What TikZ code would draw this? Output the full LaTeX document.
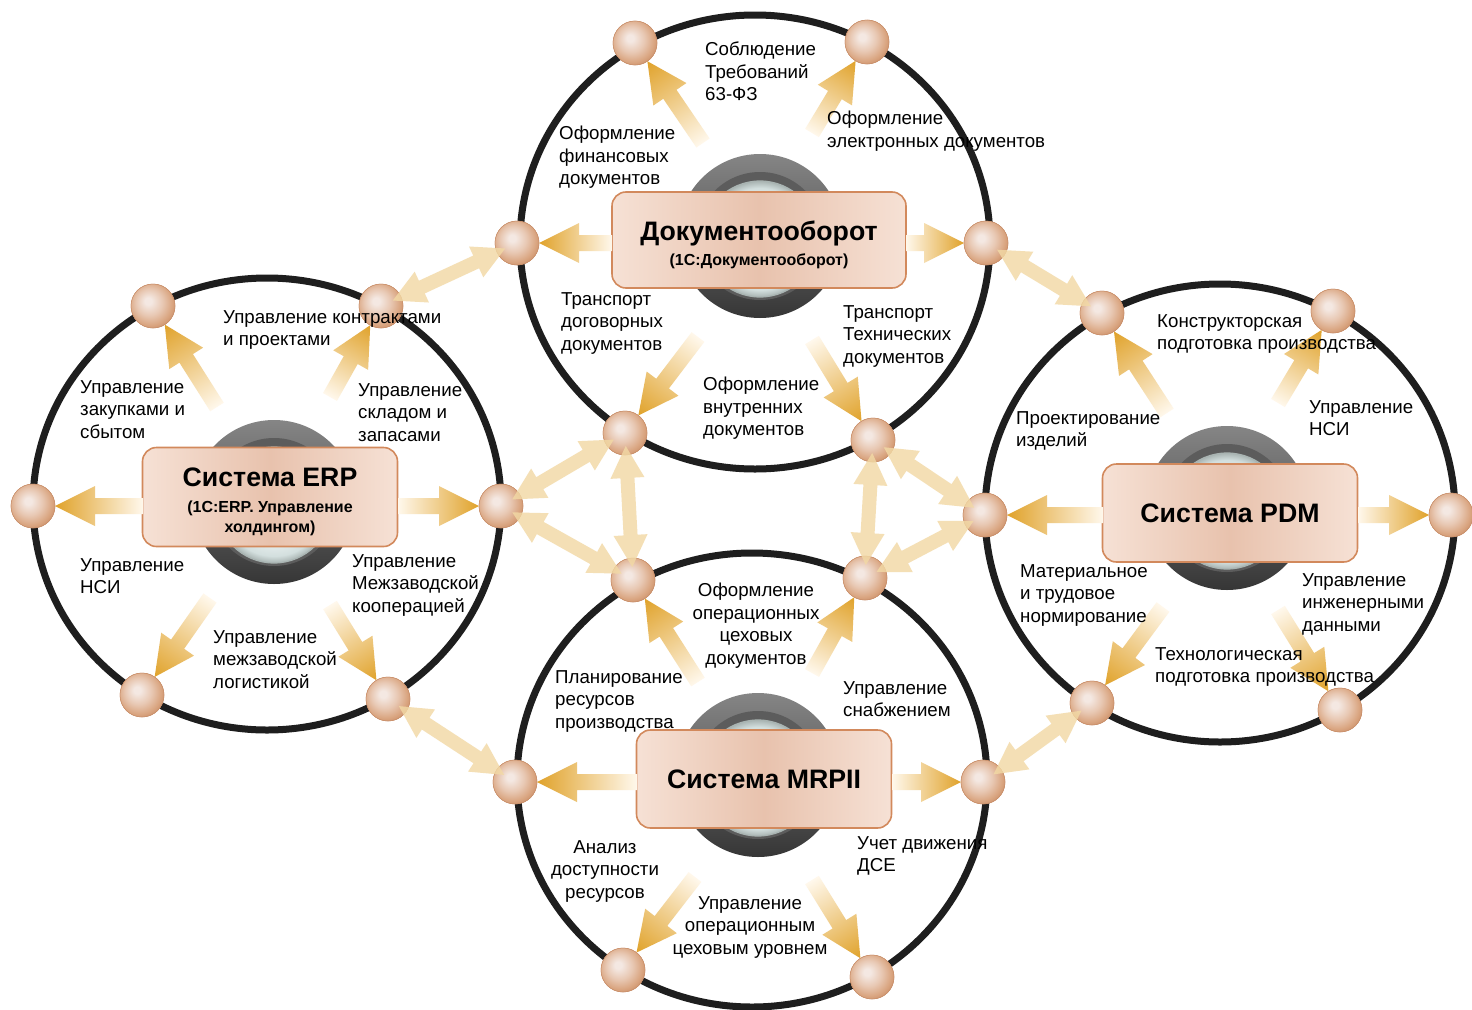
\documentclass[tikz,border=0pt]{standalone}
\usepackage{fontspec}
\setmainfont{Liberation Sans}
\usetikzlibrary{calc}
\definecolor{outl}{HTML}{1E1E1E}
\definecolor{arrhead}{HTML}{E0A22A}
\definecolor{arrtail}{HTML}{FFF8EC}
\definecolor{paleA}{HTML}{F2D9A5}
\definecolor{paleB}{HTML}{FAEED8}
\definecolor{boxedge}{HTML}{F6E1D5}
\definecolor{boxmid}{HTML}{E8C2AD}
\definecolor{boxline}{HTML}{D2895C}
\definecolor{ballhi}{HTML}{F4E8E2}
\definecolor{ballmid}{HTML}{E8C8B3}
\definecolor{ballout}{HTML}{D9A47F}
\definecolor{ballrim}{HTML}{C98F6A}
\definecolor{ringA}{HTML}{858585}
\definecolor{ringB}{HTML}{363636}
\definecolor{ringC}{HTML}{5C5C5C}
\definecolor{lensA}{HTML}{F4F8F8}
\definecolor{lensB}{HTML}{D3DFDE}
\definecolor{lensC}{HTML}{A9B4B2}
\pgfdeclareradialshading{myball}{\pgfpoint{-6bp}{6bp}}{color(0bp)=(ballhi); color(4bp)=(ballhi); color(15bp)=(ballmid); color(25bp)=(ballout); color(30bp)=(ballrim); color(50bp)=(ballrim)}
\pgfdeclareradialshading{lens}{\pgfpoint{0bp}{0bp}}{color(0bp)=(white); color(12bp)=(lensA); color(22bp)=(lensB); color(25bp)=(lensC); color(50bp)=(lensC)}
\newcommand{\garrow}[2]{%
  \pgfpointdiff{\pgfpointanchor{#1}{center}}{\pgfpointanchor{#2}{center}}%
  \pgfgetlastxy{\gax}{\gay}%
  \pgfmathsetmacro{\gang}{atan2(\gay,\gax)}%
  \pgfmathsetmacro{\glen}{veclen(\gax,\gay)-22}%
  \pgfmathsetmacro{\gbase}{\glen-40}%
  \begin{scope}[transform canvas={shift={(#1)},rotate=\gang}]
    \shade[left color=arrtail, right color=arrhead]
      (0,-8) -- (\gbase,-8) -- (\gbase,-20) -- (\glen,0) -- (\gbase,20) -- (\gbase,8) -- (0,8) -- cycle;
  \end{scope}}
\newcommand{\darrow}[2]{%
  \pgfpointdiff{\pgfpointanchor{#1}{center}}{\pgfpointanchor{#2}{center}}%
  \pgfgetlastxy{\gax}{\gay}%
  \pgfmathsetmacro{\gang}{atan2(\gay,\gax)}%
  \pgfmathsetmacro{\glen}{veclen(\gax,\gay)}%
  \pgfmathsetmacro{\gC}{\glen-45}%
  \pgfmathsetmacro{\gD}{\glen-13}%
  \begin{scope}[transform canvas={shift={(#1)},rotate=\gang}]
    \shade[left color=paleA, middle color=paleB, right color=paleA, opacity=0.82]
      (13,0) -- (45,-17) -- (45,-7) -- (\gC,-7) -- (\gC,-17) -- (\gD,0) -- (\gC,17) -- (\gC,7) -- (45,7) -- (45,17) -- cycle;
  \end{scope}}
\tikzset{
  outline/.style={draw=outl, line width=7pt},
  ballst/.style={circle, minimum size=44pt, inner sep=0pt, shade, shading=myball, draw=ballrim, line width=0.5pt},
  sysbox/.style={draw=boxline, line width=1.6pt, rounded corners=14pt, left color=boxedge, right color=boxedge, middle color=boxmid, minimum width=255pt, minimum height=98pt, inner sep=0pt},
  systext/.style={align=center, inner sep=0pt, font=\fontsize{16}{20}\selectfont\bfseries},
  lbl/.style={inner sep=0pt, anchor=north west, align=left, font=\fontsize{18.7}{22.5}\selectfont},
  lblc/.style={inner sep=0pt, anchor=north, align=center, font=\fontsize{18.7}{22.5}\selectfont},
}
\newcommand{\bigt}[1]{{\fontsize{26.7}{30}\selectfont\bfseries #1}}
\newcommand{\sysring}[1]{%
  \shade[top color=ringA, bottom color=ringB] (#1) circle (82);
  \fill[ringC] (#1) circle (64);
  \shade[shading=lens, draw=lensC, line width=1.2pt] ($(#1)+(0,3)$) circle (58);}
\begin{document}
\begin{tikzpicture}[x=1pt,y=-1pt]
\useasboundingbox (0,0) rectangle (1472,1009);
\fill[white] (0,0) rectangle (1472,1009);
% centres
\coordinate (Tc) at (755,242);
\coordinate (Ec) at (267,504);
\coordinate (Pc) at (1220,513);
\coordinate (Mc) at (752,780);
\draw[outline] (Tc) ellipse [x radius=235, y radius=227];
\draw[outline] (Ec) ellipse [x radius=234, y radius=226];
\draw[outline] (Pc) ellipse [x radius=235, y radius=229];
\draw[outline] (Mc) ellipse [x radius=235, y radius=227];
% rings
\coordinate (Tring) at (760,236);
\coordinate (Ering) at (274,502);
\coordinate (Pring) at (1227,508);
\coordinate (Mring) at (758,775);
\sysring{Tring}
\sysring{Ering}
\sysring{Pring}
\sysring{Mring}
% boxes
\node[sysbox, minimum width=294pt, minimum height=96pt] (Tbox) at (759,240) {};
\node[systext] (Ttext) at (759,245) {\bigt{Документооборот}\\[5pt](1С:Документооборот)};
\node[sysbox, minimum height=99pt] (Ebox) at (270,497) {};
\node[systext] (Etext) at (270,502) {\bigt{Система ERP}\\[6pt](1С:ERP. Управление\\холдингом)};
\node[sysbox] (Pbox) at (1230,513) {};
\node[systext] (Ptext) at (1230,513) {\bigt{Система PDM}};
\node[sysbox] (Mbox) at (764,779) {};
\node[systext] (Mtext) at (764,779) {\bigt{Система MRPII}};
% balls
\node[ballst] (Ttl) at (635,43) {};
\node[ballst] (Ttr) at (867,42) {};
\node[ballst] (Tl) at (517,243) {};
\node[ballst] (Tr) at (986,243) {};
\node[ballst] (Tbl) at (625,433) {};
\node[ballst] (Tbr) at (873,440) {};
\node[ballst] (Etl) at (153,306) {};
\node[ballst] (Etr) at (381,306) {};
\node[ballst] (El) at (33,506) {};
\node[ballst] (Er) at (501,506) {};
\node[ballst] (Ebl) at (142,695) {};
\node[ballst] (Ebr) at (388,699) {};
\node[ballst] (Ptl) at (1102,313) {};
\node[ballst] (Ptr) at (1333,311) {};
\node[ballst] (Pl) at (985,515) {};
\node[ballst] (Pr) at (1451,515) {};
\node[ballst] (Pbl) at (1092,703) {};
\node[ballst] (Pbr) at (1340,710) {};
\node[ballst] (Mtl) at (633,580) {};
\node[ballst] (Mtr) at (865,578) {};
\node[ballst] (Ml) at (515,782) {};
\node[ballst] (Mr) at (983,782) {};
\node[ballst] (Mbl) at (623,970) {};
\node[ballst] (Mbr) at (872,977) {};
% tails
\coordinate (Tul) at (703,143);
\coordinate (Tur) at (812,133);
\coordinate (Tdl) at (698,337);
\coordinate (Tdr) at (812,340);
\coordinate (Twt) at (612,243);
\coordinate (Tet) at (906,243);
\coordinate (Eul) at (217,407);
\coordinate (Eur) at (330,397);
\coordinate (Edl) at (210,598);
\coordinate (Edr) at (330,605);
\coordinate (Ewt) at (143,506);
\coordinate (Eet) at (398,506);
\coordinate (Pul) at (1167,413);
\coordinate (Pur) at (1278,403);
\coordinate (Pdl) at (1163,607);
\coordinate (Pdr) at (1278,610);
\coordinate (Pwt) at (1103,515);
\coordinate (Pet) at (1358,515);
\coordinate (Mul) at (698,682);
\coordinate (Mur) at (812,673);
\coordinate (Mdl) at (695,877);
\coordinate (Mdr) at (812,880);
\coordinate (Mwt) at (637,782);
\coordinate (Met) at (892,782);
% inner arrows
\garrow{Tul}{Ttl}\garrow{Tur}{Ttr}\garrow{Tdl}{Tbl}\garrow{Tdr}{Tbr}\garrow{Twt}{Tl}\garrow{Tet}{Tr}
\garrow{Eul}{Etl}\garrow{Eur}{Etr}\garrow{Edl}{Ebl}\garrow{Edr}{Ebr}\garrow{Ewt}{El}\garrow{Eet}{Er}
\garrow{Pul}{Ptl}\garrow{Pur}{Ptr}\garrow{Pdl}{Pbl}\garrow{Pdr}{Pbr}\garrow{Pwt}{Pl}\garrow{Pet}{Pr}
\garrow{Mul}{Mtl}\garrow{Mur}{Mtr}\garrow{Mdl}{Mbl}\garrow{Mdr}{Mbr}\garrow{Mwt}{Ml}\garrow{Met}{Mr}
% balls again on top of arrow tips
\foreach \b in {Ttl,Ttr,Tl,Tr,Tbl,Tbr,Etl,Etr,El,Er,Ebl,Ebr,Ptl,Ptr,Pl,Pr,Pbl,Pbr,Mtl,Mtr,Ml,Mr,Mbl,Mbr}
  \shade[shading=myball, draw=ballrim, line width=0.5pt] (\b) circle (22);
% connecting double arrows
\darrow{Etr}{Tl}
\darrow{Er}{Tbl}
\darrow{Er}{Mtl}
\darrow{Tbl}{Mtl}
\darrow{Tbr}{Mtr}
\darrow{Tbr}{Pl}
\darrow{Mtr}{Pl}
\darrow{Tr}{Ptl}
\darrow{Ebr}{Ml}
\darrow{Mr}{Pbl}
% labels
\node[lbl] (t1) at (705,42) {Соблюдение\\Требований\\63-ФЗ};
\node[lbl] (t2) at (559,126) {Оформление\\финансовых\\документов};
\node[lbl] (t3) at (827,111) {Оформление\\электронных документов};
\node[lbl] (t4) at (561,292) {Транспорт\\договорных\\документов};
\node[lbl] (t5) at (843,305) {Транспорт\\Технических\\документов};
\node[lbl] (t6) at (703,377) {Оформление\\внутренних\\документов};
\node[lbl] (e1) at (223,310) {Управление контрактами\\и проектами};
\node[lbl] (e2) at (80,380) {Управление\\закупками и\\сбытом};
\node[lbl] (e3) at (358,383) {Управление\\складом и\\запасами};
\node[lbl] (e4) at (80,558) {Управление\\НСИ};
\node[lbl] (e5) at (352,554) {Управление\\Межзаводской\\кооперацией};
\node[lbl] (e6) at (213,630) {Управление\\межзаводской\\логистикой};
\node[lbl] (p1) at (1157,314) {Конструкторская\\подготовка производства};
\node[lbl] (p2) at (1016,411) {Проектирование\\изделий};
\node[lbl] (p3) at (1309,400) {Управление\\НСИ};
\node[lbl] (p4) at (1020,564) {Материальное\\и трудовое\\нормирование};
\node[lbl] (p5) at (1302,573) {Управление\\инженерными\\данными};
\node[lbl] (p6) at (1155,647) {Технологическая\\подготовка производства};
\node[lblc] (m1) at (756,583) {Оформление\\операционных\\цеховых\\документов};
\node[lbl] (m2) at (555,670) {Планирование\\ресурсов\\производства};
\node[lbl] (m3) at (843,681) {Управление\\снабжением};
\node[lblc] (m4) at (605,840) {Анализ\\доступности\\ресурсов};
\node[lbl] (m5) at (857,836) {Учет движения\\ДСЕ};
\node[lblc] (m6) at (750,896) {Управление\\операционным\\цеховым уровнем};
\end{tikzpicture}
\end{document}
